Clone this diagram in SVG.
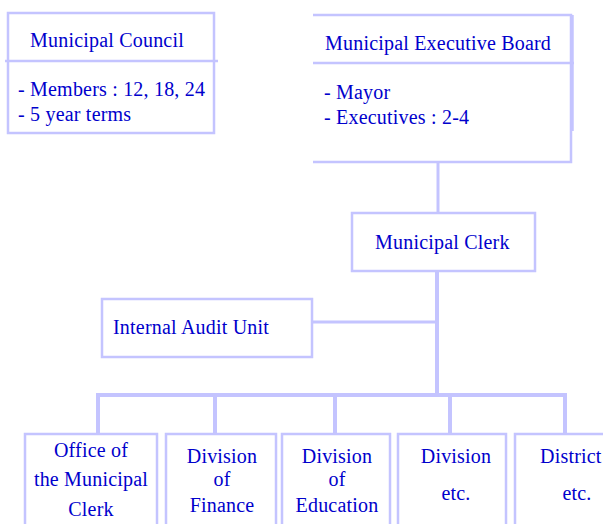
<svg xmlns="http://www.w3.org/2000/svg" width="603" height="524" viewBox="0 0 603 524">
  <style>
    .box { fill: #ffffff; stroke: #c4c4ff; stroke-width: 2.5; }
    .edge { fill: none; stroke: #c4c4ff; stroke-width: 2.5; }
    .link { fill: none; stroke: #c4c4ff; }
    text { font-family: "Liberation Serif", "Times New Roman", serif; font-size: 20px; fill: #0000cc; letter-spacing: 0.2px; }
    .c { text-anchor: middle; }
  </style>
  <rect width="603" height="524" fill="#ffffff"/>

  <!-- connectors -->
  <g id="connectors" class="link">
    <line x1="438" y1="162" x2="438" y2="214" stroke-width="3"/>
    <line x1="437" y1="271" x2="437" y2="397" stroke-width="4"/>
    <line x1="312" y1="322" x2="437" y2="322" stroke-width="3"/>
    <line x1="96" y1="395" x2="567" y2="395" stroke-width="4"/>
    <line x1="98" y1="395" x2="98" y2="434" stroke-width="4"/>
    <line x1="215" y1="395" x2="215" y2="434" stroke-width="4"/>
    <line x1="335" y1="395" x2="335" y2="434" stroke-width="4"/>
    <line x1="450" y1="395" x2="450" y2="434" stroke-width="4"/>
    <line x1="565" y1="395" x2="565" y2="434" stroke-width="4"/>
  </g>

  <!-- Municipal Council -->
  <g id="council">
    <rect class="box" x="8" y="13" width="206" height="120"/>
    <line class="edge" x1="5" y1="61" x2="218" y2="61"/>
    <text x="30" y="47">Municipal Council</text>
    <text x="18" y="96">- Members : 12, 18, 24</text>
    <text x="18" y="121">- 5 year terms</text>
  </g>

  <!-- Municipal Executive Board (open on the left side) -->
  <g id="executive-board">
    <path class="edge" d="M313 15 H571 V162 H313"/>
    <line class="edge" x1="572.5" y1="15" x2="572.5" y2="131"/>
    <line class="edge" x1="313" y1="63" x2="574" y2="63"/>
    <text x="325" y="50">Municipal Executive Board</text>
    <text x="324" y="99">- Mayor</text>
    <text x="324" y="124">- Executives : 2-4</text>
  </g>

  <!-- Municipal Clerk -->
  <g id="clerk">
    <rect class="box" x="352" y="213" width="183" height="58"/>
    <text x="375" y="249">Municipal Clerk</text>
  </g>

  <!-- Internal Audit Unit -->
  <g id="audit">
    <rect class="box" x="102" y="299" width="210" height="58"/>
    <text x="113" y="334">Internal Audit Unit</text>
  </g>

  <!-- departments -->
  <g id="office-clerk">
    <rect class="box" x="25" y="434" width="132" height="100"/>
    <text class="c" x="91" y="457">Office of</text>
    <text class="c" x="91" y="486">the Municipal</text>
    <text class="c" x="91" y="516">Clerk</text>
  </g>

  <g id="finance">
    <rect class="box" x="166" y="434" width="110" height="100"/>
    <text class="c" x="222" y="463">Division</text>
    <text class="c" x="222" y="486">of</text>
    <text class="c" x="222" y="512">Finance</text>
  </g>

  <g id="education">
    <rect class="box" x="282" y="434" width="108" height="100"/>
    <text class="c" x="337" y="463">Division</text>
    <text class="c" x="337" y="486">of</text>
    <text class="c" x="337" y="512">Education</text>
  </g>

  <g id="division-etc">
    <rect class="box" x="398" y="434" width="108" height="100"/>
    <text class="c" x="456" y="463">Division</text>
    <text class="c" x="456" y="500">etc.</text>
  </g>

  <g id="district-etc">
    <rect class="box" x="515" y="434" width="110" height="100"/>
    <text x="540" y="463">District</text>
    <text class="c" x="577" y="500">etc.</text>
  </g>
</svg>
